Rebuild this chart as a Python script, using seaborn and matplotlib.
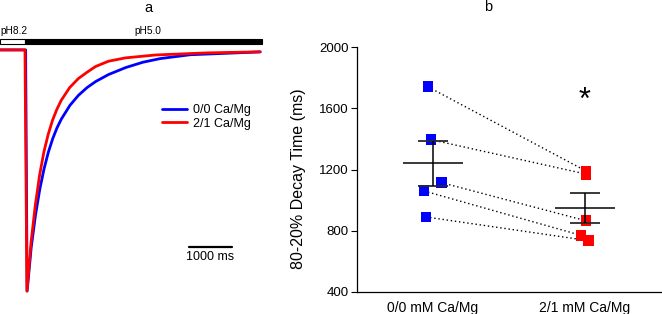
import numpy as np
import pandas as pd
import seaborn as sns
import matplotlib.pyplot as plt
from matplotlib.patches import Rectangle

# panel a - normalized current traces (time in ms, current relative to peak)
t_00 = [-580, 15, 50, 145, 245, 345, 445, 545, 645, 745, 845, 1045, 1245, 1445, 1645, 1945,
        2345, 2745, 3145, 3845, 4645, 5470]
i_00 = [0, 0, -1.0, -0.819, -0.684, -0.577, -0.492, -0.423, -0.368, -0.323, -0.287, -0.230,
        -0.188, -0.156, -0.131, -0.102, -0.073, -0.051, -0.036, -0.020, -0.0143, -0.0082]
t_21 = [-580, 0, 45, 140, 240, 340, 440, 540, 640, 740, 840, 1040, 1240, 1440, 1640, 1940,
        2340, 3040, 4240, 5470]
i_21 = [0, 0, -1.0, -0.80, -0.644, -0.519, -0.423, -0.35, -0.292, -0.247, -0.21, -0.156,
        -0.119, -0.093, -0.069, -0.047, -0.033, -0.021, -0.0123, -0.008]
trace_labels = ['0/0 Ca/Mg', '2/1 Ca/Mg']

sol_labels = ['pH8.2', 'pH5.0']
sol_start = [-580, 12]
sol_end = [12, 5510]
scale_ms = 1000

# panel b - 80-20% decay times (ms), paired cells
conditions = ['0/0 mM Ca/Mg', '2/1 mM Ca/Mg']
decay_00 = [1740, 1395, 1115, 1060, 890]
decay_21 = [1190, 1170, 865, 770, 735]
jitter_00 = [-0.033, -0.013, 0.053, -0.059, -0.046]
jitter_21 = [0.007, 0.007, 0.007, -0.026, 0.026]

sns.set_theme(style='ticks')
plt.rcParams['font.family'] = ['Liberation Sans', 'DejaVu Sans']
plt.rcParams.update({'text.color': 'black', 'axes.labelcolor': 'black',
                     'xtick.color': 'black', 'ytick.color': 'black'})

fig = plt.figure(figsize=(6.62, 3.14), dpi=100)

# ---------------- panel a ----------------
axa = fig.add_axes([0, 14 / 314, 262 / 662, 280 / 314])
traces = pd.DataFrame({
    't': t_00 + t_21,
    'i': i_00 + i_21,
    'cond': [trace_labels[0]] * len(t_00) + [trace_labels[1]] * len(t_21),
})
sns.lineplot(data=traces, x='t', y='i', hue='cond', palette=['#0000ff', '#ff0000'],
             linewidth=2.0, sort=False, estimator=None, ax=axa)
axa.set_xlim(-581, 5512)
axa.set_ylim(-1.037, 0.124)
axa.set_axis_off()

# solution bar
for k, (s, e) in enumerate(zip(sol_start, sol_end)):
    fc = 'white' if k == 0 else 'black'
    axa.add_patch(Rectangle((s, 0.025), e - s, 0.021, facecolor=fc, edgecolor='black',
                            linewidth=0.8, clip_on=False))
axa.text(sol_start[0], 0.079, sol_labels[0], fontsize=7.3, ha='left', va='center')
axa.text(2850, 0.079, sol_labels[1], fontsize=7.3, ha='center', va='center')

# scale bar
axa.plot([3814, 3814 + scale_ms], [-0.817, -0.817], color='black', lw=1.6)
axa.text(3814 + scale_ms / 2, -0.86, f'{scale_ms} ms', fontsize=9, ha='center', va='center')

axa.legend(loc='center left', bbox_to_anchor=(162 / 262, 1 - (117 - 20) / 280),
           frameon=False, fontsize=9, handlelength=2.0, handletextpad=0.45,
           borderpad=0, borderaxespad=0, labelspacing=0.1)
fig.text(148 / 662, 1 - 7.5 / 314, 'a', fontsize=10.5, ha='center', va='center')

# ---------------- panel b ----------------
axb = fig.add_axes([357 / 662, 22 / 314, 305 / 662, 245 / 314])
df = pd.DataFrame({
    'cond': [conditions[0]] * len(decay_00) + [conditions[1]] * len(decay_21),
    'value': decay_00 + decay_21,
    'x': [0 + j for j in jitter_00] + [1 + j for j in jitter_21],
})

for k in range(len(decay_00)):
    axb.plot([jitter_00[k], 1 + jitter_21[k]], [decay_00[k], decay_21[k]],
             ls=(0, (1, 2)), color='black', lw=1.0, zorder=2)

sns.scatterplot(data=df, x='x', y='value', hue='cond', palette=['#0000ff', '#ff0000'],
                marker='s', s=62, edgecolor='none', legend=False, ax=axb, zorder=3)

for k, vals in enumerate([decay_00, decay_21]):
    v = np.array(vals)
    m = v.mean()
    se = v.std(ddof=1) / np.sqrt(len(v))
    axb.hlines(m, k - 0.197, k + 0.197, color='#2a2a2a', lw=1.3, zorder=4)
    axb.hlines([m - se, m + se], k - 0.1, k + 0.1, color='#2a2a2a', lw=1.3, zorder=4)
    axb.vlines(k, m - se, m + se, color='black', lw=1.1, zorder=4)

axb.text(1, 1650, '*', fontsize=22, ha='center', va='center')

axb.set_xlim(-0.5, 1.507)
axb.set_ylim(400, 2000)
axb.set_yticks([400, 800, 1200, 1600, 2000])
axb.set_xticks([0, 1])
axb.set_xticklabels(conditions)
axb.set_xlabel('')
axb.set_ylabel('80-20% Decay Time (ms)', fontsize=11.5)
axb.yaxis.set_label_coords(-0.167, 0.463)
axb.tick_params(axis='y', length=4, width=0.8, labelsize=9.5, pad=2)
axb.tick_params(axis='x', length=0, labelsize=10, pad=6.5)
for sp in ['left', 'bottom']:
    axb.spines[sp].set_linewidth(0.9)
    axb.spines[sp].set_color('black')
sns.despine(ax=axb)
fig.text(488 / 662, 1 - 7 / 314, 'b', fontsize=10.5, ha='center', va='center')

fig.savefig('out.png', dpi=100)
